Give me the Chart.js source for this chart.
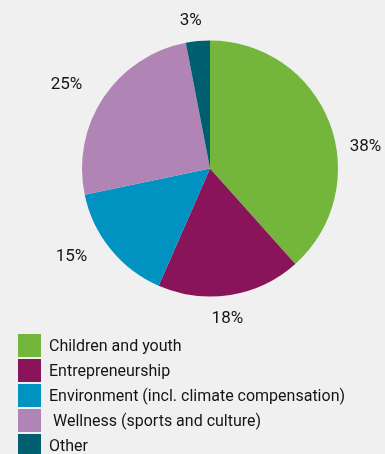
<!DOCTYPE html>
<html lang="en">
<head>
    <meta charset="UTF-8">
    <title>pie chart</title>
    <script src="https://cdn.jsdelivr.net/npm/chart.js"></script>
    <style>
        html, body { margin: 0; padding: 0; background: #f0f0f0; }
        #wrap { position: relative; width: 385px; height: 454px; overflow: hidden; }
        #legend { position: absolute; left: 18px; top: 334px; font-family: "Liberation Sans Narrow", Roboto, sans-serif; font-size: 16px; color: #141414; }
        .row { display: flex; align-items: center; height: 23px; margin-bottom: 2px; white-space: pre; }
        .box { width: 23px; height: 23px; margin-right: 8px; flex: none; }
    </style>
</head>
<body>
<div id="wrap">
    <canvas id="myChart" width="385" height="454"></canvas>
    <div id="legend"></div>
</div>
<script>
    let categories = ['Children and youth', 'Entrepreneurship', 'Environment (incl. climate compensation)', ' Wellness (sports and culture)', 'Other'];
    let shares = [38, 18, 15, 25, 3];
    let colors = ['#74b53b', '#8a1459', '#0093c1', '#b085b6', '#005f6f'];
    // small nudges so the % labels sit where they are in the original
    let labelTurn = [13, 2.5, 6.7, -3.5, -2];
    let labelGap = [29, 23.5, 36, 38, 21];

    let pctLabels = {
        id: 'pctLabels',
        afterDatasetsDraw(chart) {
            let c = chart.ctx;
            let meta = chart.getDatasetMeta(0);
            c.save();
            c.font = '17px "Liberation Sans Narrow", Roboto, sans-serif';
            c.fillStyle = '#141414';
            c.textAlign = 'center';
            c.textBaseline = 'middle';
            meta.data.forEach(function (arc, i) {
                let p = arc.getProps(['x', 'y', 'startAngle', 'endAngle', 'outerRadius'], true);
                let a = (p.startAngle + p.endAngle) / 2 + labelTurn[i] * Math.PI / 180;
                let r = p.outerRadius + labelGap[i];
                c.fillText(shares[i] + '%', p.x + r * Math.cos(a), p.y + r * Math.sin(a));
            });
            c.restore();
        }
    };

    let ctx = document.getElementById('myChart');
    let myChart = new Chart(ctx, {
        type: 'pie',
        data: {
            labels: categories,
            datasets: [{
                data: shares,
                backgroundColor: colors,
                borderWidth: 0
            }]
        },
        options: {
            responsive: false,
            animation: false,
            devicePixelRatio: 1,
            layout: { padding: { left: 82, right: 47, top: 40.5, bottom: 157.5 } },
            plugins: {
                legend: { display: false },
                tooltip: { enabled: false }
            }
        },
        plugins: [pctLabels]
    });

    let lg = document.getElementById('legend');
    categories.forEach(function (name, i) {
        let row = document.createElement('div');
        row.className = 'row';
        let box = document.createElement('span');
        box.className = 'box';
        box.style.background = colors[i];
        let txt = document.createElement('span');
        txt.textContent = name;
        row.appendChild(box);
        row.appendChild(txt);
        lg.appendChild(row);
    });
</script>
</body>
</html>
